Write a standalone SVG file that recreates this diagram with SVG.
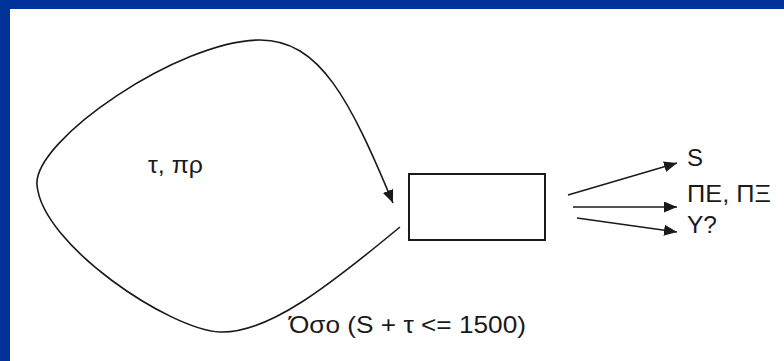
<svg xmlns="http://www.w3.org/2000/svg" width="784" height="361" viewBox="0 0 784 361">
  <style>
    .line { fill: none; stroke: #1a1a1a; stroke-width: 1.6; }
    .box { fill: #ffffff; stroke: #1a1a1a; stroke-width: 2; }
    .lbl { font-family: "Liberation Sans", Arial, sans-serif; font-size: 24px; fill: #1a1a1a; }
  </style>
  <defs>
    <marker id="arrow" markerUnits="userSpaceOnUse" markerWidth="14" markerHeight="12" refX="13" refY="5.5" orient="auto">
      <path d="M0,0 L13,5.5 L0,11 z" fill="#1a1a1a"/>
    </marker>
  </defs>
  <rect x="0" y="0" width="784" height="361" fill="#ffffff"/>
  <g id="frame">
    <rect x="0" y="0" width="784" height="9" fill="#003399"/>
    <rect x="0" y="0" width="10" height="361" fill="#003399"/>
  </g>
  <g id="connectors">
    <path class="line" marker-end="url(#arrow)" d="M400,227 C330,285 268,334 220,332 C170,330 42,245 37,185 C33,140 180,40 260,40 C320,40 350,100 393,203"/>
    <path class="line" marker-end="url(#arrow)" d="M568,195 L677,163"/>
    <path class="line" marker-end="url(#arrow)" d="M573,207 L677,207"/>
    <path class="line" marker-end="url(#arrow)" d="M577,218 L677,232"/>
  </g>
  <g id="node-box">
    <rect class="box" x="409" y="174" width="136" height="66"/>
  </g>
  <g id="labels">
    <text id="label-loop" class="lbl" x="148" y="173" textLength="55" lengthAdjust="spacingAndGlyphs">τ, πρ</text>
    <text id="label-while" class="lbl" x="289" y="333" textLength="237" lengthAdjust="spacingAndGlyphs">Όσο (S + τ &lt;= 1500)</text>
    <text id="label-s" class="lbl" x="687" y="166">S</text>
    <text id="label-pe" class="lbl" x="687" y="202" textLength="84" lengthAdjust="spacingAndGlyphs">ΠΕ, ΠΞ</text>
    <text id="label-y" class="lbl" x="687" y="233" textLength="30" lengthAdjust="spacingAndGlyphs">Υ?</text>
  </g>
</svg>
